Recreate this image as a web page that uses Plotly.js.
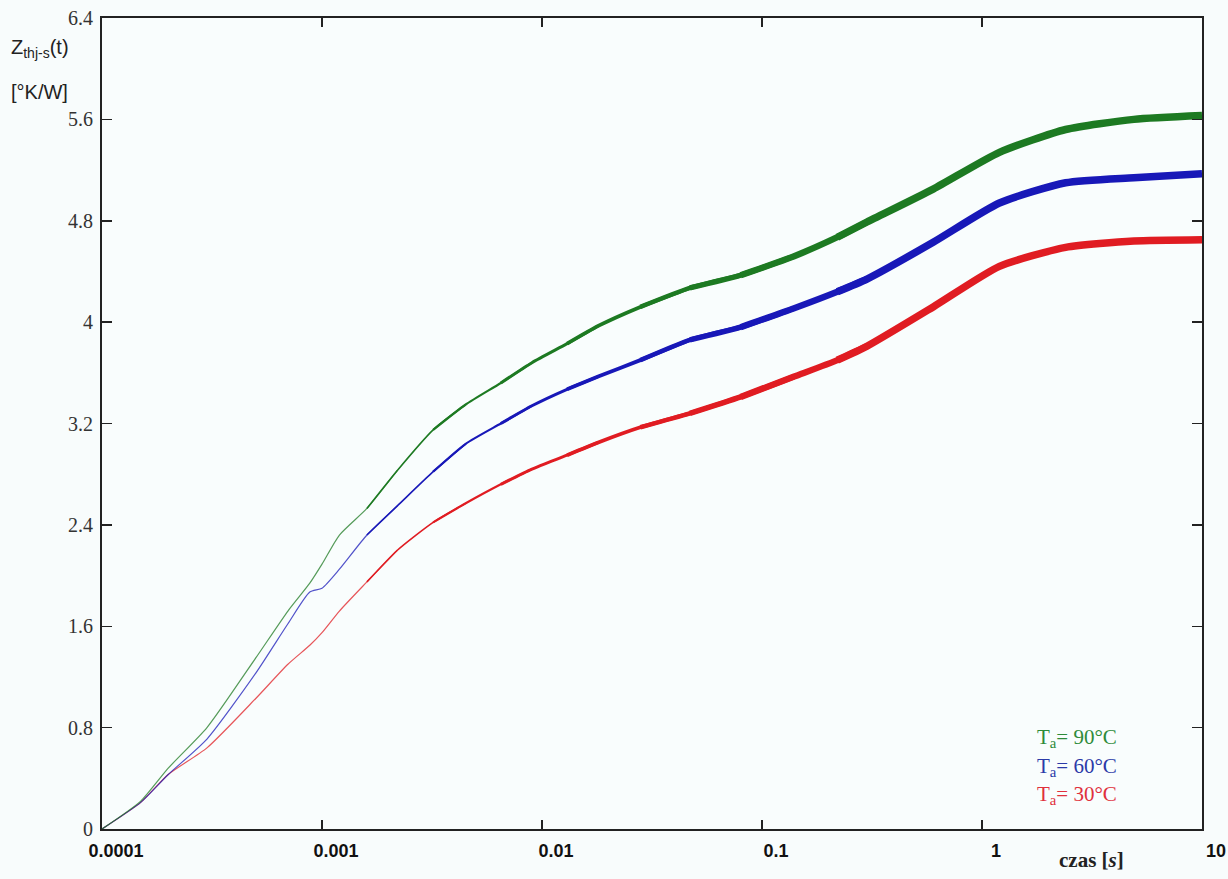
<!DOCTYPE html>
<html>
<head>
<meta charset="utf-8">
<script src="https://cdn.plot.ly/plotly-3.0.1.min.js"></script>
<style>html,body{margin:0;padding:0;background:#f8fcfc;}#chart{width:1228px;height:879px;}</style>
</head>
<body>
<div id="chart"></div>
<script>
// time [s]
const czas = [0.0001, 0.00015, 0.0002, 0.0003, 0.0005, 0.0007, 0.00088, 0.001, 0.0012, 0.0016, 0.0022, 0.0032, 0.0045, 0.0065, 0.009, 0.013, 0.018, 0.028, 0.047, 0.08, 0.14, 0.22, 0.3, 0.6, 1.2, 2.4, 4.9, 10];
// Zth(j-s) [K/W]
const ta90 = [0, 0.22, 0.48, 0.80, 1.35, 1.72, 1.94, 2.09, 2.32, 2.53, 2.83, 3.15, 3.35, 3.52, 3.68, 3.83, 3.97, 4.12, 4.27, 4.37, 4.52, 4.67, 4.79, 5.05, 5.34, 5.52, 5.60, 5.63];
const ta60 = [0, 0.21, 0.43, 0.71, 1.23, 1.62, 1.87, 1.90, 2.05, 2.32, 2.55, 2.82, 3.04, 3.20, 3.34, 3.47, 3.57, 3.70, 3.86, 3.96, 4.11, 4.24, 4.34, 4.63, 4.94, 5.10, 5.14, 5.17];
const ta30 = [0, 0.21, 0.43, 0.64, 1.03, 1.30, 1.45, 1.55, 1.72, 1.95, 2.20, 2.42, 2.57, 2.72, 2.84, 2.95, 3.05, 3.17, 3.28, 3.41, 3.57, 3.70, 3.81, 4.12, 4.44, 4.59, 4.64, 4.65];

const xTickVals = [0.0001, 0.001, 0.01, 0.1, 1, 10];
const xTickText = ['0.0001', '0.001', '0.01', '0.1', '1', '10'];
const yTickVals = [0, 0.8, 1.6, 2.4, 3.2, 4, 4.8, 5.6, 6.4];
const yTickText = ['0', '0.8', '1.6', '2.4', '3.2', '4', '4.8', '5.6', '6.4'];

const seriesList = [
  {name: 'Ta = 30°C', y: ta30, color: '#e01c22'},
  {name: 'Ta = 60°C', y: ta60, color: '#1818b8'},
  {name: 'Ta = 90°C', y: ta90, color: '#1d7a22'}
];
// the noisy band gets denser (thicker) to the right
const segBreaks = [0.0001, 0.002, 0.004, 0.008, 0.015, 0.03, 0.06, 0.12, 0.25, 10];
const segWidths = [1.2, 1.6, 2.2, 3, 3.8, 4.6, 5.4, 6.4, 7.5];

const traces = [];
seriesList.forEach(s => {
  for (let k = 0; k < segWidths.length; k++) {
    const lo = segBreaks[k], hi = segBreaks[k + 1];
    let a = czas.findIndex(t => t >= lo);
    if (a > 0 && czas[a] > lo) a -= 1;
    let b = -1;
    czas.forEach((t, i) => { if (t <= hi) b = i; });
    if (b < czas.length - 1 && czas[b] < hi) b += 1;
    traces.push({
      x: czas.slice(a, b + 1),
      y: s.y.slice(a, b + 1),
      type: 'scatter', mode: 'lines',
      line: {color: s.color, width: segWidths[k], shape: 'spline', smoothing: 0.6},
      opacity: k === 0 ? 0.75 : 1,
      showlegend: false, hoverinfo: 'x+y', name: s.name
    });
  }
});

const layout = {
  width: 1228, height: 879,
  margin: {l: 102, r: 26, t: 18, b: 50},
  paper_bgcolor: '#f8fcfc',
  plot_bgcolor: '#f9fdfd',
  showlegend: false,
  xaxis: {
    type: 'log', range: [-4, 1],
    tickvals: xTickVals, ticktext: xTickText,
    ticks: 'inside', ticklen: 9, tickwidth: 1.5, tickcolor: '#222',
    showline: true, linecolor: '#222', linewidth: 2, mirror: 'ticks',
    showgrid: false, zeroline: false,
    ticklabelshift: 14, ticklabelstandoff: 4,
    tickfont: {family: 'Liberation Sans, Arial, sans-serif', size: 18, color: '#111', weight: 'bold'}
  },
  yaxis: {
    range: [0, 6.4],
    tickvals: yTickVals, ticktext: yTickText,
    ticks: 'inside', ticklen: 10, tickwidth: 1.5, tickcolor: '#222',
    showline: true, linecolor: '#222', linewidth: 2, mirror: 'ticks',
    showgrid: false, zeroline: false,
    ticklabelstandoff: 3,
    tickfont: {family: 'Liberation Serif, Times New Roman, serif', size: 20, color: '#333'}
  },
  annotations: [
    {xref: 'paper', yref: 'paper', x: -0.085, y: 0.963, xanchor: 'left', yanchor: 'middle',
     text: 'Z<sub>thj-s</sub>(t)', showarrow: false,
     font: {family: 'Liberation Sans, Arial, sans-serif', size: 20, color: '#222'}},
    {xref: 'paper', yref: 'paper', x: -0.085, y: 0.909, xanchor: 'left', yanchor: 'middle',
     text: '[°K/W]', showarrow: false,
     font: {family: 'Liberation Sans, Arial, sans-serif', size: 20, color: '#222'}},
    {xref: 'paper', yref: 'paper', x: 0.868, y: -0.038, xanchor: 'left', yanchor: 'middle',
     text: 'czas [<i>s</i>]', showarrow: false,
     font: {family: 'Liberation Serif, Times New Roman, serif', size: 21, color: '#222', weight: 'bold'}},
    {xref: 'paper', yref: 'paper', x: 0.848, y: 0.112, xanchor: 'left', yanchor: 'middle',
     text: 'T<sub>a</sub>= 90°C', showarrow: false,
     font: {family: 'Liberation Serif, Times New Roman, serif', size: 21, color: '#2e8b3a'}},
    {xref: 'paper', yref: 'paper', x: 0.848, y: 0.077, xanchor: 'left', yanchor: 'middle',
     text: 'T<sub>a</sub>= 60°C', showarrow: false,
     font: {family: 'Liberation Serif, Times New Roman, serif', size: 21, color: '#2b3aa8'}},
    {xref: 'paper', yref: 'paper', x: 0.848, y: 0.042, xanchor: 'left', yanchor: 'middle',
     text: 'T<sub>a</sub>= 30°C', showarrow: false,
     font: {family: 'Liberation Serif, Times New Roman, serif', size: 21, color: '#e0303c'}}
  ]
};

Plotly.newPlot('chart', traces, layout, {displayModeBar: false, staticPlot: true});
</script>
</body>
</html>
